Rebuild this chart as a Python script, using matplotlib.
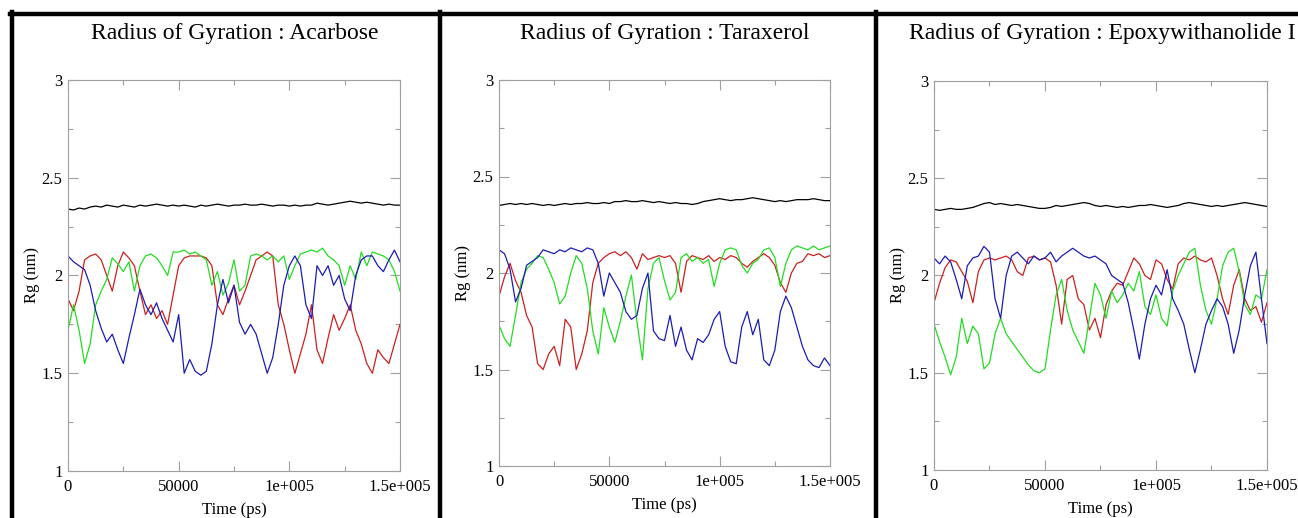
# Radius of gyration, three ligand runs side by side (xmgrace-look)
import numpy as np
import matplotlib.pyplot as plt
from matplotlib.lines import Line2D

plt.rcParams['font.family'] = ['Liberation Serif', 'DejaVu Serif']

# ================= DATA (every 2500 ps) =================
TITLES = ["Radius of Gyration : Acarbose",
          "Radius of Gyration : Taraxerol",
          "Radius of Gyration : Epoxywithanolide I"]

X_TICKS = [0, 50000, 100000, 150000]
X_TICK_LABELS = ["0", "50000", "1e+005", "1.5e+005"]
Y_TICKS = [1, 1.5, 2, 2.5, 3]
Y_TICK_LABELS = ["1", "1.5", "2", "2.5", "3"]

# --- Acarbose ---
acarbose_black = [2.340, 2.335, 2.345, 2.340, 2.350, 2.355, 2.350, 2.360, 2.355, 2.350,
                  2.360, 2.355, 2.350, 2.360, 2.355, 2.360, 2.365, 2.360, 2.355, 2.360,
                  2.355, 2.360, 2.355, 2.350, 2.360, 2.355, 2.360, 2.365, 2.360, 2.355,
                  2.360, 2.360, 2.365, 2.360, 2.360, 2.365, 2.360, 2.355, 2.360, 2.360,
                  2.355, 2.360, 2.355, 2.360, 2.360, 2.370, 2.365, 2.360, 2.365, 2.370,
                  2.375, 2.380, 2.375, 2.370, 2.375, 2.370, 2.365, 2.360, 2.365, 2.360,
                  2.360]
acarbose_red = [1.88, 1.82, 1.92, 2.08, 2.10, 2.11, 2.08, 2.00, 1.92, 2.05,
                2.12, 2.09, 2.05, 1.92, 1.80, 1.85, 1.78, 1.82, 1.75, 1.90,
                2.05, 2.09, 2.10, 2.10, 2.10, 2.09, 2.05, 1.85, 1.80, 1.88,
                1.95, 1.85, 1.92, 2.00, 2.08, 2.10, 2.12, 2.10, 1.85, 1.75,
                1.62, 1.50, 1.60, 1.70, 1.85, 1.62, 1.55, 1.68, 1.80, 1.72,
                1.78, 1.85, 1.72, 1.65, 1.55, 1.50, 1.62, 1.58, 1.55, 1.65,
                1.75]
acarbose_green = [1.72, 1.85, 1.72, 1.55, 1.65, 1.85, 1.92, 1.98, 2.09, 2.06,
                  2.02, 2.07, 1.92, 2.05, 2.10, 2.11, 2.09, 2.05, 2.00, 2.12,
                  2.12, 2.13, 2.11, 2.12, 2.10, 2.08, 1.95, 2.02, 1.90, 1.96,
                  2.08, 1.92, 1.95, 2.10, 2.11, 2.10, 2.08, 2.10, 2.07, 2.10,
                  1.98, 2.05, 2.11, 2.12, 2.13, 2.12, 2.14, 2.10, 2.08, 2.05,
                  1.95, 2.05, 1.98, 2.12, 2.05, 2.12, 2.11, 2.10, 2.08, 2.02,
                  1.92]
acarbose_blue = [2.10, 2.07, 2.05, 2.03, 1.95, 1.82, 1.73, 1.66, 1.70, 1.62,
                 1.55, 1.68, 1.80, 1.93, 1.85, 1.80, 1.86, 1.78, 1.72, 1.66,
                 1.80, 1.50, 1.57, 1.51, 1.49, 1.51, 1.65, 1.85, 1.98, 1.86,
                 1.95, 1.76, 1.70, 1.75, 1.70, 1.60, 1.50, 1.58, 1.75, 1.95,
                 2.05, 2.10, 2.05, 1.85, 1.78, 2.05, 2.00, 2.05, 1.95, 2.00,
                 1.88, 1.82, 2.00, 2.08, 2.10, 2.10, 2.05, 2.02, 2.08, 2.13,
                 2.07]

# --- Taraxerol ---
taraxerol_black = [2.350, 2.355, 2.360, 2.355, 2.360, 2.355, 2.360, 2.355, 2.350, 2.355,
                   2.350, 2.355, 2.360, 2.355, 2.360, 2.360, 2.365, 2.360, 2.360, 2.365,
                   2.360, 2.370, 2.370, 2.375, 2.370, 2.370, 2.375, 2.370, 2.365, 2.370,
                   2.365, 2.360, 2.365, 2.360, 2.360, 2.355, 2.360, 2.370, 2.375, 2.380,
                   2.385, 2.380, 2.375, 2.380, 2.380, 2.385, 2.390, 2.385, 2.380, 2.375,
                   2.370, 2.375, 2.370, 2.375, 2.380, 2.380, 2.380, 2.385, 2.380, 2.375,
                   2.375]
taraxerol_red = [1.88, 1.98, 2.05, 1.96, 1.90, 1.78, 1.72, 1.53, 1.50, 1.58,
                 1.62, 1.52, 1.76, 1.72, 1.50, 1.58, 1.70, 1.95, 2.05, 2.08,
                 2.10, 2.11, 2.09, 2.11, 2.08, 2.02, 2.10, 2.07, 2.08, 2.09,
                 2.08, 2.09, 2.05, 1.90, 2.06, 2.09, 2.08, 2.07, 2.09, 2.06,
                 2.08, 2.07, 2.09, 2.08, 2.05, 2.03, 2.06, 2.08, 2.10, 2.08,
                 2.04, 1.95, 1.90, 2.00, 2.05, 2.06, 2.10, 2.09, 2.10, 2.08,
                 2.09]
taraxerol_green = [1.73, 1.66, 1.62, 1.78, 1.95, 2.02, 2.05, 2.09, 2.08, 2.02,
                   1.95, 1.84, 1.88, 2.00, 2.09, 2.05, 1.92, 1.70, 1.58, 1.82,
                   1.72, 1.64, 1.75, 1.88, 1.99, 1.75, 1.55, 1.92, 2.05, 2.08,
                   1.96, 1.86, 1.90, 2.08, 2.10, 2.06, 2.08, 2.05, 2.07, 1.93,
                   2.05, 2.12, 2.13, 2.12, 2.04, 2.00, 2.05, 2.07, 2.12, 2.13,
                   2.08, 1.93, 2.05, 2.12, 2.14, 2.13, 2.12, 2.14, 2.12, 2.13,
                   2.14]
taraxerol_blue = [2.12, 2.10, 2.02, 1.85, 1.92, 2.04, 2.06, 2.08, 2.12, 2.11,
                  2.10, 2.12, 2.11, 2.13, 2.12, 2.11, 2.13, 2.12, 2.05, 1.88,
                  2.00, 1.95, 1.90, 1.80, 1.76, 1.78, 1.92, 2.00, 1.70, 1.66,
                  1.65, 1.78, 1.62, 1.72, 1.60, 1.55, 1.66, 1.64, 1.68, 1.76,
                  1.80, 1.62, 1.54, 1.53, 1.72, 1.80, 1.68, 1.76, 1.55, 1.52,
                  1.60, 1.80, 1.88, 1.82, 1.72, 1.62, 1.55, 1.52, 1.51, 1.56,
                  1.52]

# --- Epoxywithanolide I ---
epoxy_black = [2.340, 2.335, 2.340, 2.345, 2.340, 2.340, 2.345, 2.350, 2.360, 2.370,
               2.375, 2.365, 2.370, 2.365, 2.360, 2.365, 2.360, 2.355, 2.350, 2.345,
               2.345, 2.350, 2.360, 2.355, 2.360, 2.365, 2.370, 2.375, 2.370, 2.360,
               2.355, 2.360, 2.355, 2.350, 2.355, 2.350, 2.355, 2.360, 2.360, 2.365,
               2.360, 2.355, 2.350, 2.355, 2.360, 2.370, 2.375, 2.370, 2.365, 2.360,
               2.355, 2.360, 2.355, 2.360, 2.365, 2.370, 2.375, 2.370, 2.365, 2.360,
               2.355]
epoxy_red = [1.86, 1.96, 2.04, 2.08, 2.07, 2.02, 1.97, 1.86, 2.02, 2.08,
             2.09, 2.08, 2.09, 2.10, 2.08, 2.02, 2.00, 2.09, 2.10, 2.08,
             2.09, 2.07, 1.95, 1.75, 1.98, 2.00, 1.88, 1.85, 1.72, 1.78,
             1.68, 1.85, 1.92, 1.96, 1.95, 2.02, 2.09, 2.06, 2.00, 1.98,
             2.08, 2.06, 1.98, 1.93, 2.06, 2.09, 2.08, 2.10, 2.08, 2.07,
             2.09, 2.00, 1.88, 1.80, 1.95, 2.03, 1.88, 1.82, 1.84, 1.76,
             1.86]
epoxy_green = [1.75, 1.66, 1.58, 1.49, 1.58, 1.78, 1.65, 1.74, 1.70, 1.52,
               1.55, 1.70, 1.78, 1.70, 1.66, 1.62, 1.58, 1.54, 1.51, 1.50,
               1.52, 1.72, 1.90, 1.98, 1.82, 1.72, 1.66, 1.60, 1.78, 1.96,
               1.90, 1.78, 1.92, 1.86, 1.90, 1.96, 1.92, 2.02, 1.84, 1.80,
               1.90, 1.78, 1.74, 1.92, 2.00, 2.06, 2.12, 2.14, 1.95, 1.82,
               1.75, 1.88, 2.05, 2.12, 2.14, 2.02, 1.85, 1.80, 1.90, 1.88,
               2.03]
epoxy_blue = [2.09, 2.06, 2.10, 2.07, 1.98, 1.88, 2.05, 2.09, 2.10, 2.15,
              2.12, 1.88, 1.78, 2.00, 2.10, 2.12, 2.09, 2.06, 2.10, 2.08,
              2.09, 2.12, 2.07, 2.10, 2.12, 2.14, 2.12, 2.10, 2.09, 2.10,
              2.08, 2.06, 2.00, 1.98, 1.96, 1.86, 1.72, 1.57, 1.75, 1.88,
              1.95, 1.90, 2.03, 1.88, 1.82, 1.75, 1.62, 1.50, 1.62, 1.75,
              1.82, 1.88, 1.84, 1.75, 1.60, 1.72, 1.90, 2.05, 2.12, 1.88,
              1.65]

PANELS = [
    (acarbose_black, acarbose_red, acarbose_green, acarbose_blue),
    (taraxerol_black, taraxerol_red, taraxerol_green, taraxerol_blue),
    (epoxy_black, epoxy_red, epoxy_green, epoxy_blue),
]

# ================= LAYOUT =================
W, H = 1298, 518
COLORS = ['black', '#cc2020', '#22dd22', '#1c1cb4']
AXIS_GRAY = '#a0a0a0'

# axes boxes in pixels: left, top, right, bottom
AX_PX = [(68, 80, 400, 471), (499, 80, 830, 466), (934, 81, 1267, 470)]
TITLE_X = [235, 665, 1102]

fig = plt.figure(figsize=(W / 100, H / 100), dpi=100)

for i, series in enumerate(PANELS):
    l, t, r, b = AX_PX[i]
    ax = fig.add_axes([l / W, 1 - b / H, (r - l) / W, (b - t) / H])
    for vals, col in zip(series, COLORS):
        time_ps = np.linspace(0, 150000, len(vals))
        ax.plot(time_ps, vals, color=col, lw=0.9)

    ax.set_xlim(0, 150000)
    ax.set_ylim(1, 3)
    ax.set_xticks(X_TICKS)
    ax.set_xticklabels(X_TICK_LABELS)
    ax.set_yticks(Y_TICKS)
    ax.set_yticklabels(Y_TICK_LABELS)
    ax.set_xticks([25000, 75000, 125000], minor=True)
    ax.set_yticks([1.25, 1.75, 2.25, 2.75], minor=True)
    ax.tick_params(which='both', direction='in', top=True, right=True,
                   color=AXIS_GRAY, labelsize=12, width=0.8)
    ax.tick_params(which='major', length=7)
    ax.tick_params(which='minor', length=3.5)
    ax.tick_params(axis='x', pad=6)
    ax.tick_params(axis='y', pad=4)
    for sp in ax.spines.values():
        sp.set_color(AXIS_GRAY)
        sp.set_linewidth(0.8)

    ax.set_xlabel("Time (ps)", fontsize=12, labelpad=5)
    ax.set_ylabel("Rg (nm)", fontsize=12, labelpad=1)

    fig.text(TITLE_X[i] / W, 1 - 33 / H, TITLES[i], ha='center', va='center',
             fontsize=17)

# thick black frame lines around the panels
bw = 3.2
fig.add_artist(Line2D([10 / W, 1], [1 - 13.5 / H] * 2, color='black', lw=bw,
                      transform=fig.transFigure))
for xp in [11.5, 440, 876]:
    fig.add_artist(Line2D([xp / W] * 2, [0, 1 - 12 / H], color='black', lw=bw,
                          transform=fig.transFigure))

fig.savefig("out.png", dpi=100)
